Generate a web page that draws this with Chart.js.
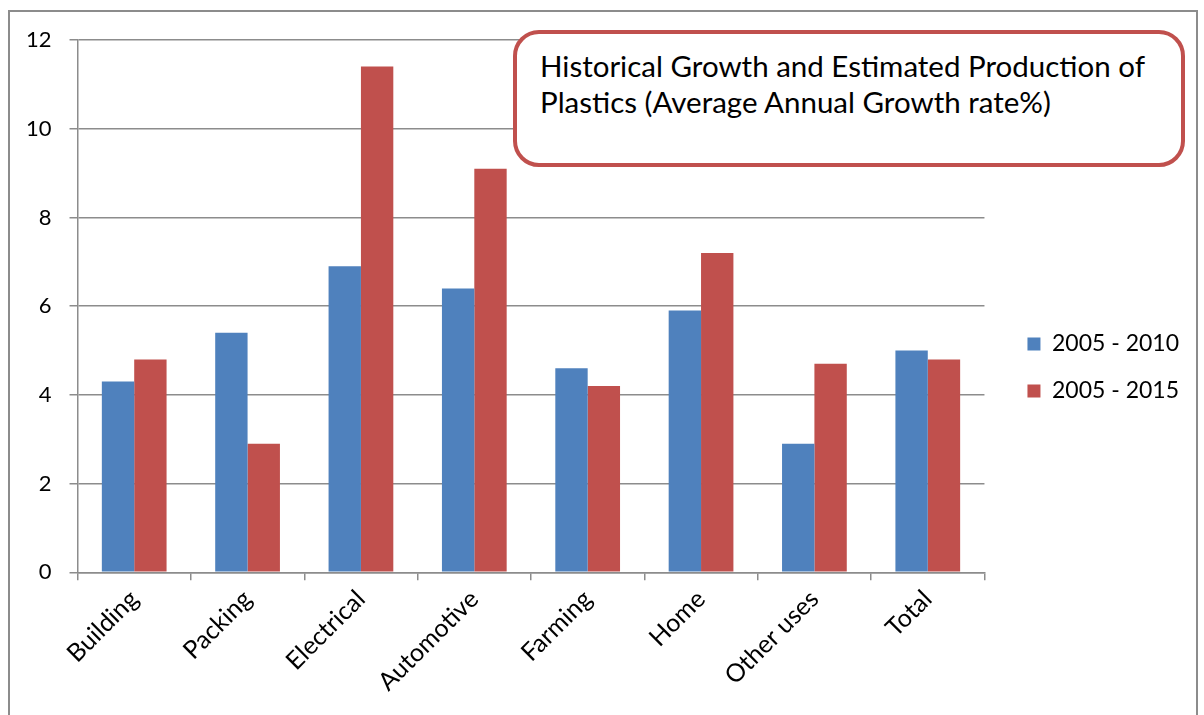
<!DOCTYPE html>
<html>
<head>
<meta charset="utf-8">
<script src="https://cdn.jsdelivr.net/npm/chart.js@4.4.1/dist/chart.umd.min.js"></script>
<style>
  html, body { margin: 0; padding: 0; background: #fff; overflow: hidden; }
  #wrap { position: relative; width: 1204px; height: 715px; }
  #frame { position: absolute; left: 8px; top: 10px; width: 1190px; height: 720px; border: 2px solid #8c8c8c; box-sizing: border-box; }
  canvas { position: absolute; left: 0; top: 0; }
  #titlebox { position: absolute; left: 513px; top: 30px; width: 672px; height: 137px; box-sizing: border-box;
    border: 4px solid #C0504D; border-radius: 26px; background: #fff;
    font-family: Lato, "Open Sans", sans-serif; font-size: 29.5px; color: #000; line-height: 36px;
    padding: 14px 0 0 23px; white-space: nowrap; }
</style>
</head>
<body>
<div id="wrap">
  <div id="frame"></div>
  <canvas id="c" width="1204" height="715"></canvas>
  <div id="titlebox">Historical Growth and Estimated Production of<br>Plastics (Average Annual Growth rate%)</div>
</div>
<script>
const categories = ["Building", "Packing", "Electrical", "Automotive", "Farming", "Home", "Other uses", "Total"];
const series2010 = [4.3, 5.4, 6.9, 6.4, 4.6, 5.9, 2.9, 5.0];
const series2015 = [4.8, 2.9, 11.4, 9.1, 4.2, 7.2, 4.7, 4.8];
const seriesNames = ["2005 - 2010", "2005 - 2015"];
const yTicks = [0, 2, 4, 6, 8, 10, 12];

const FONT = "Lato, 'Open Sans', sans-serif";
const GRID = "#8c8c8c";

const legendShift = {
  id: "legendShift",
  afterLayout(chart) {
    const lg = chart.legend;
    if (!lg) return;
    const dx = 19, dy = -3;
    lg.left += dx; lg.right += dx;
    lg.top += dy; lg.bottom += dy;
  }
};

new Chart(document.getElementById("c"), {
  type: "bar",
  data: {
    labels: categories,
    datasets: [
      { label: seriesNames[0], data: series2010, backgroundColor: "#4F81BD", categoryPercentage: 0.571, barPercentage: 1.0 },
      { label: seriesNames[1], data: series2015, backgroundColor: "#C0504D", categoryPercentage: 0.571, barPercentage: 1.0 }
    ]
  },
  options: {
    responsive: false,
    animation: false,
    layout: { padding: { left: 8, top: 40, right: 34, bottom: 14 } },
    plugins: {
      tooltip: { enabled: false },
      title: { display: false },
      legend: {
        position: "right",
        align: "center",
        labels: { boxWidth: 13, boxHeight: 13, padding: 24, color: "#000", font: { family: FONT, size: 23 } }
      }
    },
    scales: {
      x: {
        offset: true,
        afterFit: (s) => { s.paddingLeft = 0; s.paddingRight = 0; },
        grid: { offset: true, drawOnChartArea: false, drawTicks: true, tickLength: 8, color: GRID, lineWidth: 1.5 },
        border: { color: GRID, width: 1.5 },
        ticks: { color: "#000", font: { family: FONT, size: 25 }, minRotation: 45, maxRotation: 45, padding: 4 }
      },
      y: {
        min: 0, max: 12,
        afterBuildTicks: (s) => { s.ticks = yTicks.map(v => ({ value: v })); },
        afterFit: (s) => { s.paddingTop = 0; s.paddingBottom = 0; },
        grid: { color: GRID, lineWidth: 1.5, tickLength: 8 },
        border: { color: GRID, width: 1.5 },
        ticks: { color: "#000", font: { family: FONT, size: 22 }, padding: 18 }
      }
    }
  },
  plugins: [legendShift]
});
</script>
</body>
</html>
